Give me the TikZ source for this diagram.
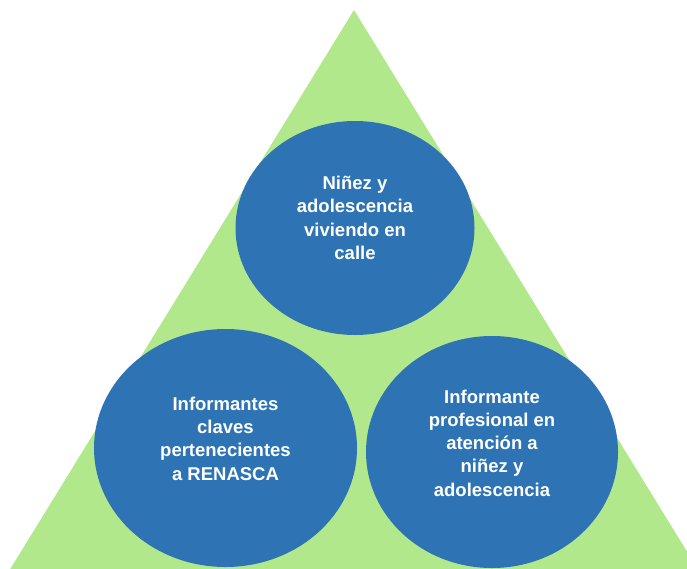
\documentclass[tikz,border=0pt]{standalone}
\usepackage{fontspec}
\setmainfont{Liberation Sans}
\usetikzlibrary{shapes.geometric}
\definecolor{trigreen}{HTML}{B2E88C}
\definecolor{circblue}{HTML}{2E74B5}
\begin{document}
\begin{tikzpicture}[x=1pt, y=1pt,
    circ/.style = {ellipse, fill=circblue, inner sep=0pt},
    lbl/.style = {text=white, align=center, font=\fontsize{18.5}{23.3}\selectfont\bfseries}]
    \useasboundingbox (0,0) rectangle (687,-568);
    \clip (0,0) rectangle (687,-568);
    % background triangle
    \fill[trigreen] (354,-10) -- (704.5,-580) -- (3.5,-580) -- cycle;

    \node[circ, minimum width=239, minimum height=214] (top) at (355,-228) {};
    \node[circ, minimum width=263, minimum height=238] (left) at (225.5,-448) {};
    \node[circ, minimum width=252, minimum height=232] (right) at (492,-452) {};

    \node[lbl] (toptext) at (355,-218) {Niñez y\\adolescencia\\viviendo en\\calle};
    \node[lbl] (lefttext) at (225.5,-438.5) {Informantes\\claves\\pertenecientes\\a RENASCA};
    \node[lbl] (righttext) at (492,-443) {Informante\\profesional en\\atención a\\niñez y\\adolescencia};
\end{tikzpicture}
\end{document}
